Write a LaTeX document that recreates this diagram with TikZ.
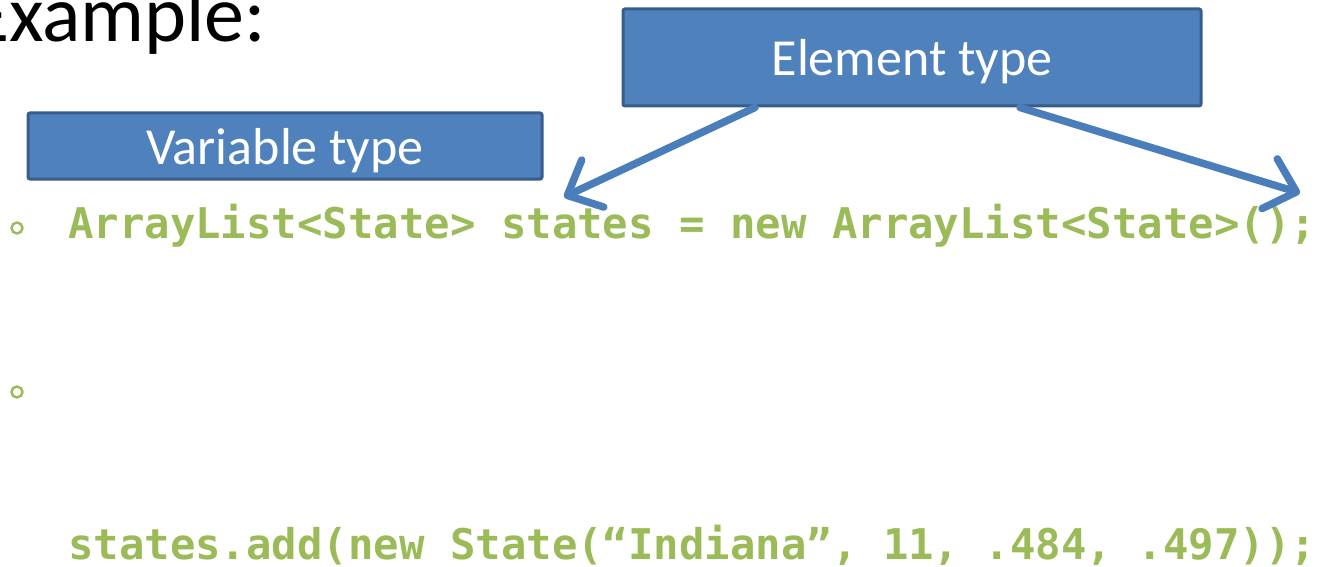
\documentclass[tikz,border=0pt]{standalone}
\usepackage{fontspec}
\setmainfont{Carlito}
\newfontfamily\codefont{DejaVu Sans Mono}
\usetikzlibrary{arrows.meta}
\definecolor{boxfill}{HTML}{4F81BD}
\definecolor{boxline}{HTML}{385D8A}
\definecolor{arrowblue}{HTML}{4A7EBB}
\definecolor{codegreen}{HTML}{9BBB59}
\tikzset{
  callout/.style={draw=boxline, fill=boxfill, line width=3pt, rounded corners=2pt,
    text=white, inner sep=0pt, text depth=0pt, font=\fontsize{52}{60}\selectfont},
  codeline/.style={anchor=base west, inner sep=0pt, text=codegreen,
    font=\codefont\bfseries\fontsize{42.3}{50}\selectfont},
  bulletmark/.style={circle, draw=codegreen, line width=2.4pt, minimum size=11pt, inner sep=0pt},
  pointer/.style={draw=arrowblue, line width=7.5pt, line cap=round,
    -{Straight Barb[length=28pt, width=52pt, line cap=round, line join=round]}}
}
\begin{document}
\begin{tikzpicture}[x=1pt, y=-1pt]
\useasboundingbox (0,0) rectangle (1319,567);

% heading, its first letter running off the left edge
\node[anchor=base west, inner sep=0pt, font=\fontsize{80}{90}\selectfont] (heading) at (-30,42) {Example:};

% callout boxes
\node[callout, minimum width=578pt, minimum height=97pt] (elem) at (912,57.5) {Element type};
\node[callout, minimum width=514pt, minimum height=66pt] (var) at (285,146) {Variable type};

% code lines with their bullets
\node[bulletmark] (b1) at (17,228) {};
\node[codeline] (line1) at (68,238) {ArrayList<State> states = new ArrayList<State>();};
\node[bulletmark] (b2) at (17,392) {};
\node[codeline] (line2) at (68,559) {states.add(new State(“Indiana”, 11, .484, .497));};

% arrows from the element-type box to the two type arguments
\coordinate (tipA) at (564,197);
\coordinate (tipB) at (1300,193);
\draw[pointer] ([xshift=-157pt]elem.south) -- (tipA);
\draw[pointer] ([xshift=108pt]elem.south) -- (tipB);
\end{tikzpicture}
\end{document}
